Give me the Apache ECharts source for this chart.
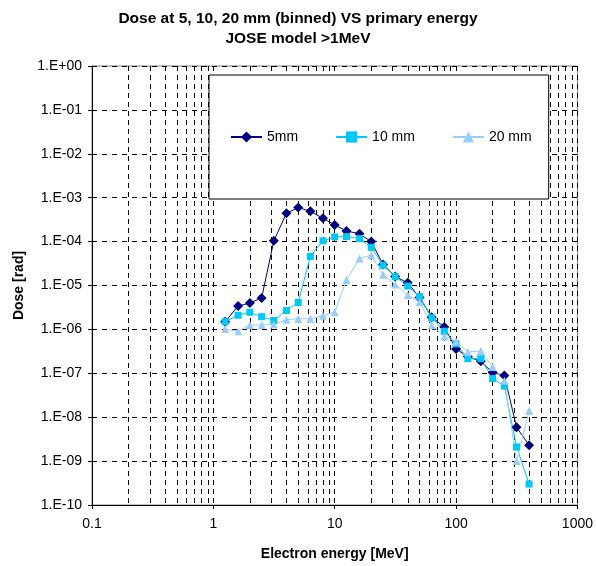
<!DOCTYPE html>
<html>
<head>
<meta charset="utf-8">
<script src="https://cdn.jsdelivr.net/npm/echarts@6/dist/echarts.min.js"></script>
<style>
html,body{margin:0;padding:0;background:#fff;}
#chart{width:596px;height:566px;}
</style>
</head>
<body>
<div id="chart"></div>
<script>
const energies = [1.25, 1.6, 2, 2.5, 3.15, 4, 5, 6.3, 8, 10, 12.5, 16, 20, 25, 31.5, 40, 50, 63, 80, 100, 125, 160, 200, 250, 315, 400];
const dose5mm  = [1.5e-6, 3.4e-6, 4.0e-6, 5.2e-6, 1.04e-4, 4.4e-4, 6.0e-4, 4.9e-4, 3.4e-4, 2.4e-4, 1.75e-4, 1.5e-4, 1.0e-4, 3.0e-5, 1.6e-5, 1.15e-5, 5.3e-6, 1.9e-6, 1.13e-6, 3.6e-7, 2.4e-7, 1.87e-7, 1.04e-7, 8.9e-8, 5.9e-9, 2.3e-9];
const dose10mm = [1.5e-6, 2.1e-6, 2.45e-6, 1.95e-6, 1.6e-6, 2.7e-6, 4.1e-6, 4.6e-5, 1.04e-4, 1.28e-4, 1.3e-4, 1.17e-4, 7.4e-5, 2.9e-5, 1.6e-5, 9.7e-6, 5.6e-6, 1.85e-6, 9.1e-7, 4.7e-7, 2.15e-7, 2.15e-7, 7.6e-8, 5.1e-8, 2.1e-9, 3.0e-10];
const dose20mm = [1.02e-6, 9.1e-7, 1.26e-6, 1.26e-6, 1.3e-6, 1.66e-6, 1.75e-6, 1.75e-6, 2.05e-6, 2.47e-6, 1.34e-5, 4.1e-5, 4.9e-5, 1.75e-5, 1.06e-5, 6.1e-6, 4.2e-6, 1.24e-6, 6.9e-7, 5.3e-7, 3.05e-7, 3.2e-7, 1.4e-7, 6.8e-8, 1.0e-9, 1.4e-8];
const seriesNames = ['5mm', '10 mm', '20 mm'];
const xTickLabels = ['0.1', '1', '10', '100', '1000'];

const FONT = '"Liberation Sans", Arial, sans-serif';
function pairs(ys) { return energies.map((e, i) => [e, ys[i]]); }
function yFmt(v) {
  const e = Math.round(Math.log10(v));
  return '1.E' + (e >= 0 ? '+' : '-') + String(Math.abs(e)).padStart(2, '0');
}
function xFmt(v) {
  const e = Math.round(Math.log10(v));
  return xTickLabels[e + 1] !== undefined ? xTickLabels[e + 1] : String(v);
}

const chart = echarts.init(document.getElementById('chart'), null, {renderer: 'canvas'});
chart.setOption({
  animation: false,
  backgroundColor: '#fff',
  title: {
    text: 'Dose at 5, 10, 20 mm (binned) VS primary energy\nJOSE model >1MeV',
    left: 'center', top: 4,
    textStyle: {fontFamily: FONT, fontSize: 15.5, fontWeight: 'bold', color: '#000', lineHeight: 20}
  },
  legend: {
    left: 209, top: 75,
    orient: 'horizontal',
    padding: [55, 17, 55, 21],
    itemGap: 37,
    itemWidth: 31, itemHeight: 14,
    borderColor: '#000', borderWidth: 1, backgroundColor: '#fff',
    textStyle: {fontFamily: FONT, fontSize: 14, color: '#000'},
    data: seriesNames
  },
  grid: {left: 92, right: 17, top: 66, bottom: 56.5, show: true, borderColor: '#808080', borderWidth: 1, backgroundColor: 'transparent'},
  xAxis: {
    type: 'log', logBase: 10, min: 0.1, max: 1000, interval: 1,
    name: 'Electron energy [MeV]', nameLocation: 'middle', nameGap: 42,
    nameTextStyle: {fontFamily: FONT, fontSize: 14, fontWeight: 'bold', color: '#000'},
    axisLine: {show: true, lineStyle: {color: '#000', width: 1}},
    axisTick: {show: true, length: 4, inside: false, lineStyle: {color: '#000'}},
    axisLabel: {fontFamily: FONT, fontSize: 14, color: '#000', margin: 12, formatter: xFmt},
    splitLine: {show: true, lineStyle: {color: '#000', type: [5, 4], width: 1}},
    minorTick: {show: false, splitNumber: 9},
    minorSplitLine: {show: true, lineStyle: {color: '#000', type: [5, 4], width: 1}}
  },
  yAxis: {
    type: 'log', logBase: 10, min: 1e-10, max: 1, interval: 1,
    name: 'Dose [rad]', nameLocation: 'middle', nameGap: 66,
    nameTextStyle: {fontFamily: FONT, fontSize: 14, fontWeight: 'bold', color: '#000'},
    axisLine: {show: true, lineStyle: {color: '#000', width: 1}},
    axisTick: {show: true, length: 4, inside: false, lineStyle: {color: '#000'}},
    axisLabel: {fontFamily: FONT, fontSize: 14, color: '#000', margin: 10, formatter: yFmt},
    splitLine: {show: true, lineStyle: {color: '#000', type: [5, 5], width: 1}}
  },
  series: [
    {name: seriesNames[0], type: 'line', data: pairs(dose5mm), symbol: 'diamond', symbolSize: 10,
     itemStyle: {color: '#000080'}, lineStyle: {color: '#000080', width: 1}},
    {name: seriesNames[1], type: 'line', data: pairs(dose10mm), symbol: 'rect', symbolSize: 7,
     itemStyle: {color: '#00C8F8'}, lineStyle: {color: '#00C8F8', width: 1}},
    {name: seriesNames[2], type: 'line', data: pairs(dose20mm), symbol: 'triangle', symbolSize: 8,
     itemStyle: {color: '#99CCFF'}, lineStyle: {color: '#99CCFF', width: 1}}
  ]
});
</script>
</body>
</html>
